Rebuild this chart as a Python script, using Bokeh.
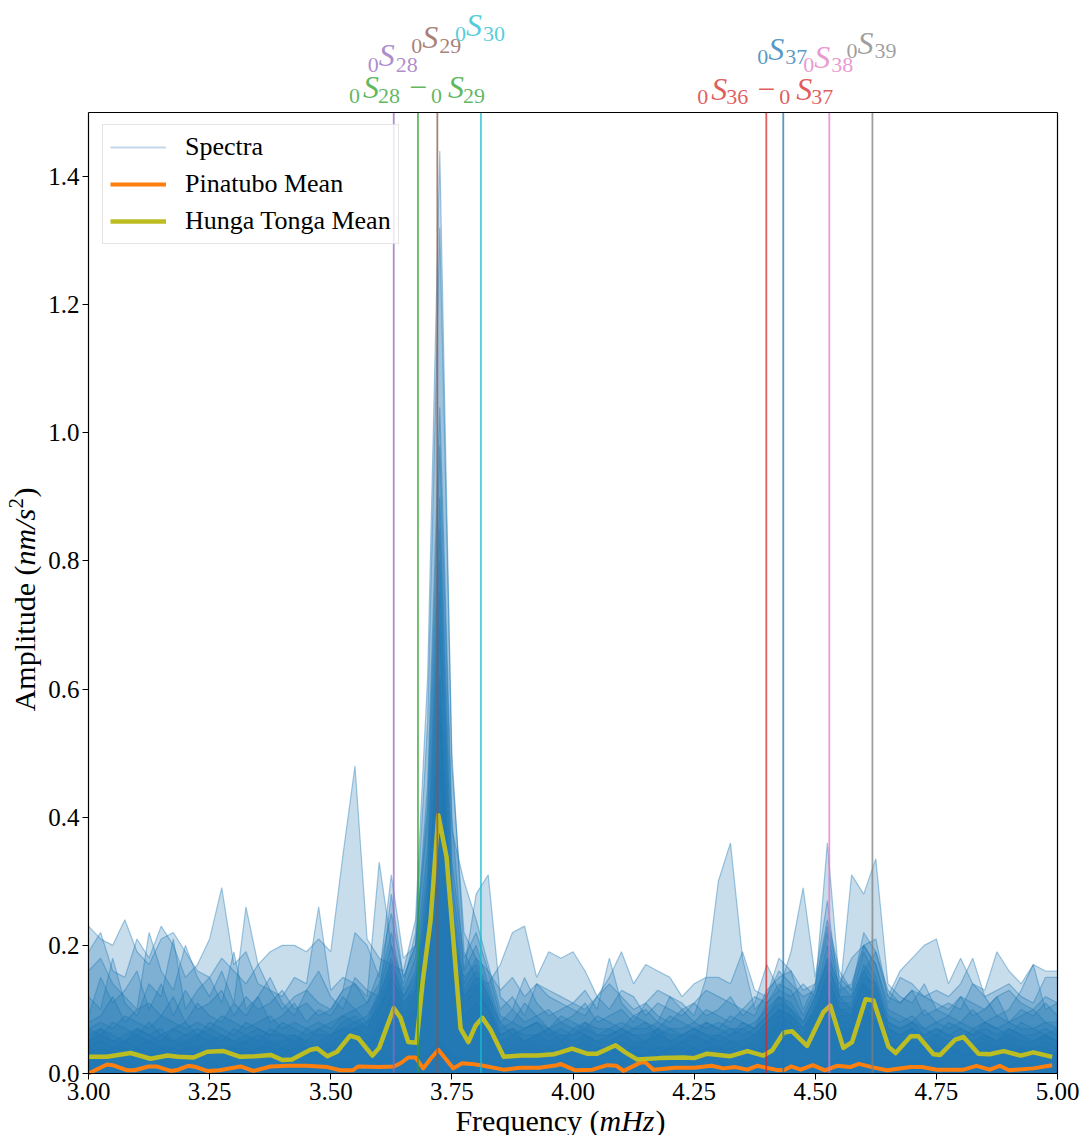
import numpy as np
from bokeh.plotting import figure
from bokeh.models import (Label, Legend, LegendItem, FixedTicker, LinearAxis,
                          NumeralTickFormatter, Range1d, ColumnDataSource)
from bokeh.embed import file_html
from bokeh.resources import INLINE

# ---------------- data ----------------
# spectra sampled on a 0.025 mHz grid from 3.00 to 5.00 (81 samples)
spec_freq = np.linspace(3.0, 5.0, 81)

sp01 = [0.23, 0.21, 0.20, 0.24, 0.19, 0.17, 0.21, 0.22, 0.19, 0.16,
        0.15, 0.18, 0.16, 0.14, 0.17, 0.19, 0.20, 0.20, 0.19, 0.21,
        0.19, 0.34, 0.48, 0.21, 0.18, 0.17, 0.16, 0.24, 0.62, 1.44,
        0.48, 0.22, 0.18, 0.16, 0.13, 0.15, 0.12, 0.14, 0.13, 0.12,
        0.11, 0.10, 0.12, 0.14, 0.12, 0.10, 0.11, 0.13, 0.12, 0.10,
        0.11, 0.13, 0.12, 0.11, 0.10, 0.12, 0.11, 0.13, 0.12, 0.14,
        0.12, 0.18, 0.14, 0.12, 0.16, 0.19, 0.13, 0.11, 0.13, 0.12,
        0.11, 0.10, 0.12, 0.11, 0.10, 0.12, 0.13, 0.11, 0.10, 0.12,
        0.11]
sp02 = [0.19, 0.22, 0.16, 0.15, 0.21, 0.18, 0.23, 0.20, 0.15, 0.17,
        0.21, 0.29, 0.17, 0.19, 0.14, 0.13, 0.12, 0.15, 0.14, 0.26,
        0.13, 0.15, 0.14, 0.12, 0.33, 0.20, 0.14, 0.22, 0.55, 1.32,
        0.50, 0.19, 0.15, 0.14, 0.17, 0.22, 0.23, 0.15, 0.19, 0.18,
        0.19, 0.16, 0.12, 0.15, 0.19, 0.14, 0.17, 0.16, 0.15, 0.12,
        0.14, 0.15, 0.15, 0.14, 0.19, 0.13, 0.12, 0.18, 0.16, 0.13,
        0.14, 0.23, 0.15, 0.13, 0.20, 0.21, 0.12, 0.16, 0.18, 0.20,
        0.21, 0.14, 0.18, 0.14, 0.13, 0.19, 0.16, 0.14, 0.17, 0.16,
        0.16]
sp03 = [0.16, 0.18, 0.14, 0.12, 0.10, 0.22, 0.16, 0.13, 0.20, 0.15,
        0.12, 0.16, 0.11, 0.26, 0.17, 0.13, 0.10, 0.12, 0.13, 0.11,
        0.10, 0.13, 0.22, 0.20, 0.15, 0.31, 0.18, 0.20, 0.45, 1.04,
        0.40, 0.16, 0.28, 0.31, 0.12, 0.10, 0.15, 0.11, 0.09, 0.10,
        0.11, 0.13, 0.10, 0.18, 0.11, 0.09, 0.10, 0.08, 0.12, 0.11,
        0.09, 0.15, 0.30, 0.36, 0.18, 0.10, 0.12, 0.16, 0.14, 0.12,
        0.13, 0.36, 0.14, 0.18, 0.20, 0.17, 0.11, 0.15, 0.14, 0.12,
        0.13, 0.12, 0.14, 0.18, 0.12, 0.13, 0.14, 0.12, 0.11, 0.15,
        0.15]
sp04 = [0.12, 0.10, 0.18, 0.11, 0.09, 0.14, 0.12, 0.21, 0.10, 0.13,
        0.15, 0.11, 0.19, 0.10, 0.12, 0.15, 0.11, 0.09, 0.13, 0.16,
        0.12, 0.10, 0.15, 0.13, 0.12, 0.28, 0.15, 0.20, 0.42, 0.98,
        0.38, 0.30, 0.24, 0.17, 0.10, 0.12, 0.09, 0.14, 0.12, 0.11,
        0.10, 0.09, 0.12, 0.10, 0.13, 0.12, 0.09, 0.11, 0.10, 0.09,
        0.11, 0.09, 0.10, 0.12, 0.09, 0.11, 0.17, 0.13, 0.19, 0.29,
        0.15, 0.27, 0.12, 0.31, 0.28, 0.335, 0.14, 0.12, 0.11, 0.14,
        0.10, 0.11, 0.10, 0.14, 0.12, 0.09, 0.10, 0.13, 0.17, 0.10,
        0.11]
sp05 = [0.09, 0.15, 0.11, 0.13, 0.16, 0.10, 0.14, 0.09, 0.13, 0.10,
        0.11, 0.13, 0.09, 0.12, 0.10, 0.11, 0.13, 0.10, 0.11, 0.09,
        0.10, 0.13, 0.14, 0.11, 0.16, 0.25, 0.15, 0.20, 0.40, 0.90,
        0.33, 0.18, 0.22, 0.16, 0.09, 0.08, 0.11, 0.09, 0.10, 0.08,
        0.09, 0.11, 0.08, 0.09, 0.10, 0.08, 0.11, 0.09, 0.08, 0.10,
        0.08, 0.10, 0.09, 0.08, 0.10, 0.09, 0.13, 0.15, 0.16, 0.10,
        0.14, 0.24, 0.16, 0.13, 0.22, 0.19, 0.12, 0.11, 0.13, 0.09,
        0.10, 0.09, 0.12, 0.09, 0.10, 0.12, 0.08, 0.10, 0.09, 0.11,
        0.09]
sp06 = [0.08, 0.09, 0.12, 0.08, 0.10, 0.11, 0.09, 0.12, 0.08, 0.11,
        0.09, 0.08, 0.11, 0.09, 0.12, 0.08, 0.09, 0.11, 0.08, 0.10,
        0.09, 0.12, 0.10, 0.11, 0.14, 0.22, 0.13, 0.18, 0.35, 0.85,
        0.30, 0.16, 0.20, 0.14, 0.08, 0.10, 0.08, 0.09, 0.07, 0.09,
        0.08, 0.07, 0.09, 0.08, 0.07, 0.09, 0.08, 0.07, 0.09, 0.08,
        0.07, 0.08, 0.07, 0.09, 0.08, 0.07, 0.11, 0.14, 0.13, 0.09,
        0.13, 0.22, 0.13, 0.14, 0.20, 0.17, 0.10, 0.09, 0.08, 0.10,
        0.08, 0.09, 0.08, 0.10, 0.08, 0.09, 0.08, 0.09, 0.10, 0.08,
        0.08]
sp07 = [0.07, 0.08, 0.07, 0.09, 0.08, 0.07, 0.09, 0.08, 0.07, 0.08,
        0.07, 0.09, 0.08, 0.07, 0.08, 0.09, 0.07, 0.08, 0.07, 0.08,
        0.07, 0.09, 0.10, 0.08, 0.13, 0.20, 0.12, 0.16, 0.32, 0.80,
        0.27, 0.14, 0.18, 0.13, 0.07, 0.08, 0.07, 0.08, 0.07, 0.08,
        0.07, 0.08, 0.07, 0.07, 0.08, 0.07, 0.07, 0.08, 0.07, 0.07,
        0.08, 0.07, 0.08, 0.07, 0.07, 0.08, 0.10, 0.12, 0.11, 0.08,
        0.12, 0.20, 0.12, 0.12, 0.19, 0.15, 0.09, 0.08, 0.09, 0.07,
        0.08, 0.07, 0.08, 0.07, 0.08, 0.07, 0.08, 0.07, 0.07, 0.08,
        0.07]
sp08 = [0.06, 0.07, 0.05, 0.06, 0.07, 0.06, 0.05, 0.07, 0.06, 0.06,
        0.07, 0.06, 0.05, 0.06, 0.07, 0.06, 0.06, 0.05, 0.07, 0.06,
        0.06, 0.08, 0.09, 0.07, 0.12, 0.18, 0.11, 0.14, 0.30, 0.75,
        0.25, 0.13, 0.16, 0.12, 0.06, 0.07, 0.06, 0.06, 0.07, 0.06,
        0.06, 0.07, 0.06, 0.06, 0.07, 0.06, 0.06, 0.07, 0.06, 0.06,
        0.07, 0.06, 0.06, 0.07, 0.06, 0.07, 0.09, 0.11, 0.10, 0.07,
        0.11, 0.18, 0.11, 0.11, 0.17, 0.14, 0.08, 0.07, 0.08, 0.06,
        0.07, 0.06, 0.07, 0.06, 0.07, 0.06, 0.07, 0.06, 0.06, 0.07,
        0.06]
sp09 = [0.05, 0.06, 0.05, 0.05, 0.06, 0.05, 0.06, 0.05, 0.05, 0.06,
        0.05, 0.06, 0.05, 0.05, 0.06, 0.05, 0.05, 0.06, 0.05, 0.05,
        0.06, 0.07, 0.08, 0.07, 0.11, 0.16, 0.10, 0.13, 0.28, 0.70,
        0.22, 0.12, 0.15, 0.11, 0.05, 0.06, 0.05, 0.06, 0.05, 0.06,
        0.05, 0.06, 0.05, 0.05, 0.06, 0.05, 0.05, 0.06, 0.05, 0.05,
        0.06, 0.05, 0.06, 0.05, 0.05, 0.06, 0.08, 0.10, 0.09, 0.06,
        0.10, 0.16, 0.10, 0.10, 0.16, 0.13, 0.07, 0.06, 0.07, 0.05,
        0.06, 0.05, 0.06, 0.05, 0.06, 0.05, 0.06, 0.05, 0.05, 0.06,
        0.05]
sp10 = [0.04, 0.05, 0.04, 0.05, 0.04, 0.05, 0.04, 0.04, 0.05, 0.04,
        0.05, 0.04, 0.04, 0.05, 0.04, 0.05, 0.04, 0.05, 0.04, 0.04,
        0.05, 0.06, 0.07, 0.06, 0.10, 0.14, 0.09, 0.12, 0.25, 0.62,
        0.20, 0.11, 0.13, 0.10, 0.04, 0.05, 0.04, 0.05, 0.04, 0.05,
        0.04, 0.05, 0.04, 0.04, 0.05, 0.04, 0.05, 0.04, 0.04, 0.05,
        0.04, 0.05, 0.04, 0.05, 0.04, 0.05, 0.07, 0.09, 0.08, 0.05,
        0.09, 0.14, 0.09, 0.09, 0.14, 0.11, 0.06, 0.05, 0.06, 0.04,
        0.05, 0.04, 0.05, 0.04, 0.05, 0.04, 0.05, 0.04, 0.04, 0.05,
        0.04]
sp11 = [0.04, 0.03, 0.04, 0.04, 0.03, 0.04, 0.04, 0.03, 0.04, 0.04,
        0.03, 0.04, 0.04, 0.03, 0.04, 0.04, 0.03, 0.04, 0.04, 0.03,
        0.04, 0.05, 0.06, 0.05, 0.08, 0.12, 0.08, 0.10, 0.22, 0.50,
        0.18, 0.09, 0.11, 0.08, 0.04, 0.03, 0.04, 0.04, 0.03, 0.04,
        0.04, 0.03, 0.04, 0.04, 0.03, 0.04, 0.04, 0.03, 0.04, 0.04,
        0.03, 0.04, 0.04, 0.03, 0.04, 0.04, 0.06, 0.08, 0.07, 0.04,
        0.07, 0.12, 0.08, 0.08, 0.12, 0.10, 0.05, 0.04, 0.05, 0.04,
        0.04, 0.03, 0.04, 0.04, 0.03, 0.04, 0.04, 0.03, 0.04, 0.04,
        0.03]
sp12 = [0.03, 0.04, 0.03, 0.03, 0.04, 0.03, 0.03, 0.04, 0.03, 0.03,
        0.04, 0.03, 0.03, 0.04, 0.03, 0.03, 0.04, 0.03, 0.03, 0.04,
        0.03, 0.04, 0.05, 0.04, 0.07, 0.10, 0.07, 0.09, 0.20, 0.40,
        0.15, 0.08, 0.10, 0.07, 0.03, 0.04, 0.03, 0.03, 0.04, 0.03,
        0.03, 0.04, 0.03, 0.03, 0.04, 0.03, 0.03, 0.04, 0.03, 0.03,
        0.04, 0.03, 0.03, 0.04, 0.03, 0.03, 0.05, 0.07, 0.06, 0.04,
        0.06, 0.10, 0.07, 0.07, 0.10, 0.08, 0.04, 0.04, 0.04, 0.03,
        0.03, 0.04, 0.03, 0.03, 0.04, 0.03, 0.03, 0.04, 0.03, 0.03,
        0.03]
sp13 = [0.07, 0.06, 0.08, 0.07, 0.06, 0.08, 0.06, 0.07, 0.08, 0.06,
        0.08, 0.07, 0.06, 0.08, 0.07, 0.06, 0.08, 0.07, 0.06, 0.07,
        0.08, 0.09, 0.08, 0.09, 0.12, 0.17, 0.12, 0.15, 0.26, 0.58,
        0.21, 0.15, 0.17, 0.12, 0.08, 0.06, 0.07, 0.08, 0.06, 0.07,
        0.06, 0.08, 0.06, 0.07, 0.06, 0.07, 0.08, 0.06, 0.07, 0.06,
        0.06, 0.08, 0.07, 0.06, 0.08, 0.07, 0.09, 0.12, 0.10, 0.08,
        0.12, 0.17, 0.12, 0.10, 0.15, 0.14, 0.08, 0.07, 0.08, 0.07,
        0.06, 0.08, 0.07, 0.06, 0.08, 0.07, 0.06, 0.08, 0.07, 0.06,
        0.07]
sp14 = [0.05, 0.07, 0.06, 0.05, 0.07, 0.06, 0.07, 0.05, 0.06, 0.07,
        0.06, 0.05, 0.07, 0.06, 0.05, 0.07, 0.06, 0.06, 0.05, 0.07,
        0.06, 0.07, 0.07, 0.08, 0.10, 0.15, 0.11, 0.13, 0.24, 0.55,
        0.19, 0.12, 0.14, 0.10, 0.06, 0.07, 0.05, 0.06, 0.07, 0.05,
        0.07, 0.06, 0.05, 0.06, 0.07, 0.06, 0.05, 0.07, 0.05, 0.06,
        0.07, 0.06, 0.05, 0.06, 0.07, 0.06, 0.08, 0.10, 0.09, 0.07,
        0.10, 0.15, 0.10, 0.09, 0.14, 0.12, 0.07, 0.06, 0.07, 0.06,
        0.07, 0.06, 0.05, 0.07, 0.06, 0.05, 0.07, 0.06, 0.05, 0.06,
        0.05]
sp15 = [0.01, 0.02, 0.01, 0.02, 0.01, 0.01, 0.02, 0.01, 0.02, 0.01,
        0.02, 0.01, 0.02, 0.01, 0.01, 0.02, 0.02, 0.01, 0.02, 0.01,
        0.01, 0.02, 0.01, 0.02, 0.02, 0.03, 0.02, 0.03, 0.03, 0.05,
        0.03, 0.02, 0.02, 0.02, 0.01, 0.02, 0.01, 0.02, 0.01, 0.02,
        0.01, 0.02, 0.02, 0.01, 0.02, 0.01, 0.02, 0.01, 0.02, 0.01,
        0.02, 0.01, 0.02, 0.01, 0.02, 0.02, 0.01, 0.02, 0.01, 0.02,
        0.01, 0.02, 0.02, 0.01, 0.02, 0.01, 0.02, 0.01, 0.02, 0.01,
        0.02, 0.01, 0.01, 0.02, 0.01, 0.02, 0.01, 0.02, 0.01, 0.02,
        0.01]
spectra = [sp01, sp02, sp03, sp04, sp05, sp06, sp07, sp08, sp09, sp10,
           sp11, sp12, sp13, sp14, sp15]

# Hunga Tonga mean spectrum
hunga_freq = [3.000, 3.038, 3.087, 3.128, 3.163, 3.185, 3.217, 3.245, 3.279, 3.313,
              3.345, 3.376, 3.400, 3.420, 3.458, 3.472, 3.493, 3.513, 3.540, 3.557,
              3.586, 3.600, 3.630, 3.644, 3.660, 3.677, 3.690, 3.706, 3.722, 3.739,
              3.768, 3.784, 3.799, 3.813, 3.830, 3.857, 3.892, 3.926, 3.960, 3.974,
              3.998, 4.029, 4.050, 4.088, 4.108, 4.132, 4.180, 4.228, 4.250, 4.277,
              4.325, 4.360, 4.393, 4.411, 4.435, 4.452, 4.483, 4.517, 4.531, 4.558,
              4.576, 4.604, 4.620, 4.651, 4.666, 4.697, 4.713, 4.744, 4.758, 4.789,
              4.806, 4.837, 4.860, 4.889, 4.924, 4.950, 4.989]
hunga_amp = [0.026, 0.026, 0.032, 0.023, 0.028, 0.026, 0.025, 0.034, 0.035, 0.026,
             0.027, 0.029, 0.021, 0.022, 0.037, 0.039, 0.027, 0.034, 0.059, 0.055,
             0.028, 0.040, 0.102, 0.087, 0.049, 0.048, 0.145, 0.239, 0.403, 0.338,
             0.070, 0.049, 0.075, 0.087, 0.068, 0.026, 0.028, 0.028, 0.030, 0.033,
             0.039, 0.031, 0.031, 0.044, 0.033, 0.022, 0.024, 0.025, 0.024, 0.031,
             0.027, 0.035, 0.028, 0.036, 0.064, 0.066, 0.043, 0.096, 0.106, 0.040,
             0.049, 0.116, 0.114, 0.042, 0.032, 0.058, 0.058, 0.030, 0.029, 0.053,
             0.057, 0.031, 0.030, 0.035, 0.028, 0.033, 0.026]

# Pinatubo mean spectrum
pina_freq = [3.000, 3.038, 3.050, 3.080, 3.095, 3.124, 3.140, 3.170, 3.185, 3.206,
             3.222, 3.245, 3.270, 3.314, 3.340, 3.376, 3.410, 3.450, 3.493, 3.520,
             3.545, 3.557, 3.600, 3.630, 3.644, 3.660, 3.675, 3.691, 3.706, 3.722,
             3.737, 3.753, 3.771, 3.790, 3.810, 3.830, 3.857, 3.890, 3.930, 3.967,
             3.974, 4.005, 4.040, 4.071, 4.090, 4.104, 4.139, 4.150, 4.166, 4.210,
             4.250, 4.286, 4.310, 4.335, 4.360, 4.380, 4.418, 4.435, 4.450, 4.470,
             4.495, 4.520, 4.545, 4.572, 4.590, 4.617, 4.648, 4.697, 4.720, 4.751,
             4.806, 4.833, 4.860, 4.881, 4.900, 4.950, 4.989]
pina_amp = [0.000, 0.014, 0.013, 0.005, 0.005, 0.011, 0.011, 0.004, 0.006, 0.012,
            0.010, 0.004, 0.005, 0.011, 0.004, 0.011, 0.012, 0.012, 0.010, 0.005,
            0.005, 0.011, 0.010, 0.011, 0.016, 0.025, 0.025, 0.008, 0.023, 0.037,
            0.023, 0.008, 0.016, 0.015, 0.013, 0.010, 0.006, 0.009, 0.009, 0.013,
            0.015, 0.005, 0.006, 0.013, 0.012, 0.004, 0.017, 0.017, 0.006, 0.009,
            0.009, 0.012, 0.008, 0.010, 0.006, 0.012, 0.006, 0.005, 0.011, 0.006,
            0.013, 0.005, 0.012, 0.010, 0.015, 0.010, 0.005, 0.010, 0.010, 0.006,
            0.006, 0.012, 0.006, 0.012, 0.005, 0.008, 0.013]

# normal-mode markers
mode_freqs = [3.630, 3.680, 3.720, 3.810, 4.399, 4.434, 4.529, 4.618]
mode_colors = ["#9467bd", "#2ca02c", "#8c564b", "#17becf",
               "#d62728", "#1f77b4", "#e377c2", "#7f7f7f"]
mode_labels = [("0", "28"), [("0", "28"), ("0", "29")], ("0", "29"), ("0", "30"),
               [("0", "36"), ("0", "37")], ("0", "37"), ("0", "38"), ("0", "39")]

x_ticks = [3.0, 3.25, 3.5, 3.75, 4.0, 4.25, 4.5, 4.75, 5.0]
y_ticks = [0.0, 0.2, 0.4, 0.6, 0.8, 1.0, 1.2, 1.4]

# ---------------- layout ----------------
W, H = 1082, 1135
L, T = 88, 112            # plot box top-left in pixels
FW, FH = 969, 961         # plot box size in pixels
X0, X1, Y0, Y1 = 3.0, 5.0, 0.0, 1.5
FONT = "Liberation Serif"
BASE_K = 0.35             # Label baseline correction (fraction of font size)


def sx(px):
    """screen x pixel -> data x"""
    return X0 + (px - L) * (X1 - X0) / FW


def sy(py):
    """screen y pixel -> data y"""
    return Y0 + (T + FH - py) * (Y1 - Y0) / FH


# the frame covers the whole canvas; axes are pinned to the plot box
p = figure(width=W, height=H, x_range=Range1d(sx(0), sx(W)),
           y_range=Range1d(sy(H), sy(0)), output_backend="svg",
           toolbar_location=None, min_border=0)
p.xgrid.visible = False
p.ygrid.visible = False
p.outline_line_color = None
p.background_fill_color = "white"
p.border_fill_color = "white"

for ax in (p.xaxis[0], p.yaxis[0]):
    ax.axis_line_color = "black"
    ax.axis_line_width = 1.2
    ax.major_tick_out = 6
    ax.major_tick_in = 0
    ax.minor_tick_out = 0
    ax.minor_tick_in = 0
    ax.major_label_text_font = FONT
    ax.major_label_text_font_size = "25px"
    ax.major_label_text_color = "black"
    ax.major_label_standoff = 3
p.xaxis.ticker = FixedTicker(ticks=x_ticks)
p.yaxis.ticker = FixedTicker(ticks=y_ticks)
p.xaxis.formatter = NumeralTickFormatter(format="0.00")
p.yaxis.formatter = NumeralTickFormatter(format="0.0")
p.xaxis.fixed_location = Y0
p.xaxis.bounds = (X0, X1)
p.yaxis.fixed_location = X0
p.yaxis.bounds = (Y0, Y1)

# right and top spines
for side, loc, bnd in (("right", X1, (Y0, Y1)), ("above", Y1, (X0, X1))):
    spine = LinearAxis(fixed_location=loc, bounds=bnd, ticker=FixedTicker(ticks=[]),
                       major_tick_out=0, major_tick_in=0, minor_tick_out=0,
                       minor_tick_in=0, axis_line_color="black",
                       axis_line_width=1.2, major_label_text_font_size="0px")
    p.add_layout(spine, side)

# spectra
for s in spectra:
    p.varea(x=spec_freq, y1=np.zeros(len(s)), y2=s, fill_color="#1f77b4",
            fill_alpha=0.25)
    p.line(spec_freq, s, line_color="#1f77b4", line_alpha=0.4, line_width=1.2)

r_pina = p.line(pina_freq, pina_amp, line_color="#ff7f0e", line_width=4,
                line_join="round")
r_hunga = p.line(hunga_freq, hunga_amp, line_color="#bcbd22", line_width=4.5,
                 line_join="round")
# legend stand-in for the spectra (kept outside the visible data area)
r_spec = p.line([2.0, 2.1], [-1.0, -1.0], line_color="#c3d7eb", line_width=2.2)

# vertical mode lines
vsrc = ColumnDataSource(dict(x=mode_freqs, y0=[Y0] * len(mode_freqs),
                             y1=[Y1] * len(mode_freqs), c=mode_colors))
p.segment(x0="x", y0="y0", x1="x", y1="y1", line_color="c", line_alpha=0.75,
          line_width=1.8, source=vsrc)

# mode labels (composed sub/italic pieces)
S_SIZE, SUB_SIZE = 32, 22
label_rows = [(66, 72), (98, 103), (48, 53), (36, 41),
              (100, 104), (60, 64), (68, 72), (54, 58)]


def piece(xc, py, dx, text, size, color, italic=False):
    p.add_layout(Label(x=xc, y=sy(py - BASE_K * size), x_offset=dx, text=text,
                       text_font=FONT, text_font_size=f"{size}px",
                       text_font_style="italic" if italic else "normal",
                       text_color=color, text_alpha=0.75,
                       text_align="left", text_baseline="alphabetic"))


for f, c, lab, (sb, bb) in zip(mode_freqs, mode_colors, mode_labels, label_rows):
    if isinstance(lab, tuple):
        pre, num = lab
        piece(f, bb, -26, pre, SUB_SIZE, c)
        piece(f, sb, -15, "S", S_SIZE, c, italic=True)
        piece(f, bb, 2, num, SUB_SIZE, c)
    else:
        (pa, na), (pb, nb) = lab
        piece(f, bb, -69, pa, SUB_SIZE, c)
        piece(f, sb, -55, "S", S_SIZE, c, italic=True)
        piece(f, bb, -40, na, SUB_SIZE, c)
        piece(f, sb, -9, "\u2212", S_SIZE, c)
        piece(f, bb, 13, pb, SUB_SIZE, c)
        piece(f, sb, 30, "S", S_SIZE, c, italic=True)
        piece(f, bb, 45, nb, SUB_SIZE, c)

# axis labels (composed so the units can be italic)
AX_SIZE = 30


def hx_text(px, py, text, align, italic=False, size=AX_SIZE, dx=0):
    p.add_layout(Label(x=sx(px), y=sy(py - BASE_K * size), x_offset=dx, text=text,
                       text_font=FONT, text_font_size=f"{size}px",
                       text_font_style="italic" if italic else "normal",
                       text_align=align, text_baseline="alphabetic",
                       text_color="black"))


def vx_text(px, py, text, align, italic=False, size=AX_SIZE):
    p.add_layout(Label(x=sx(px - BASE_K * size), y=sy(py), text=text,
                       angle=np.pi / 2, text_font=FONT,
                       text_font_size=f"{size}px",
                       text_font_style="italic" if italic else "normal",
                       text_align=align, text_baseline="alphabetic",
                       text_color="black"))


hx_text(599, 1130, "Frequency (", "right")
hx_text(599, 1130, "mHz", "left", italic=True)
hx_text(599, 1130, ")", "left", dx=56)

vx_text(34, 565, "Amplitude (", "right")
vx_text(34, 565, "nm/s", "left", italic=True)
vx_text(23, 508, "2", "left", size=21)
vx_text(34, 497, ")", "left")

# legend
legend = Legend(items=[LegendItem(label="Spectra", renderers=[r_spec]),
                       LegendItem(label="Pinatubo Mean", renderers=[r_pina]),
                       LegendItem(label="Hunga Tonga Mean", renderers=[r_hunga])],
                location=(102, H - 244), padding=7, spacing=7,
                glyph_width=56, glyph_height=30, label_height=30,
                label_standoff=19, label_text_font=FONT,
                label_text_font_size="26px", label_text_color="black",
                border_line_color="#cccccc", border_line_width=1,
                background_fill_alpha=0.8)
p.add_layout(legend)

open("out.html", "w").write(file_html(p, INLINE))
